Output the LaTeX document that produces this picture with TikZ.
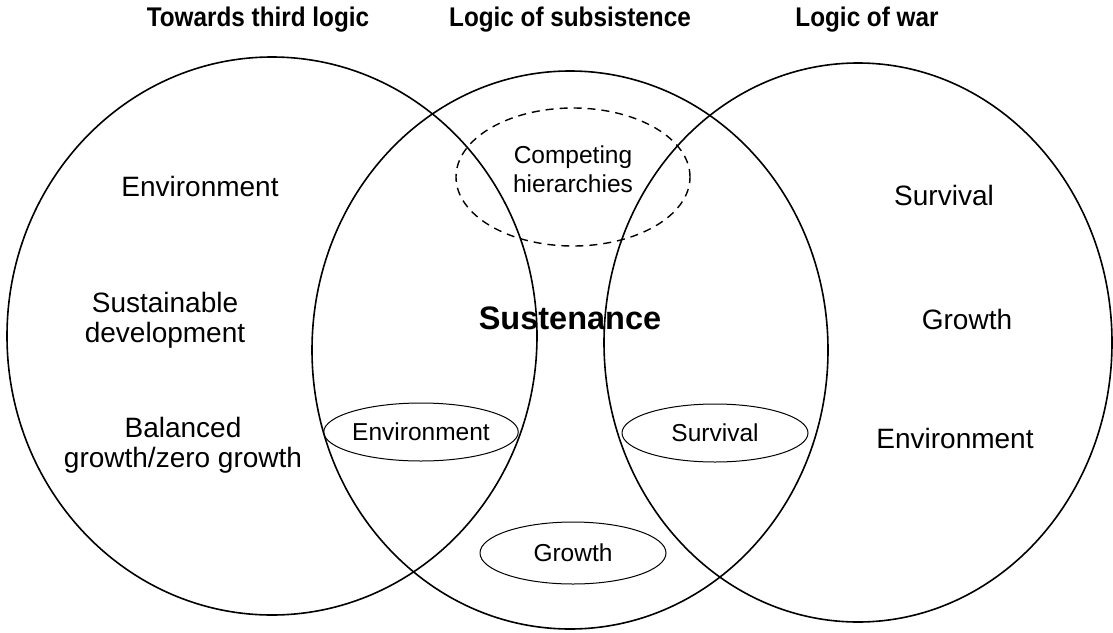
\documentclass[tikz,border=0pt]{standalone}
\usepackage{fontspec}
\setmainfont{Liberation Sans}
\newfontfamily\titlefont{Liberation Sans}[FakeStretch=0.9]
\usetikzlibrary{shapes.geometric}
\begin{document}
\begin{tikzpicture}[x=1pt,y=-1pt,
  bigell/.style={ellipse, draw, line width=1.6pt, inner sep=0pt},
  smallell/.style={ellipse, draw, line width=1pt, inner sep=0pt, minimum width=186pt, font=\fontsize{24.5}{29}\selectfont},
  dashell/.style={ellipse, draw, line width=1.4pt, dash pattern=on 8pt off 6pt, inner sep=0pt},
  title/.style={font=\titlefont\fontsize{27}{30}\selectfont\bfseries, inner sep=0pt},
  lbl/.style={font=\fontsize{28}{30}\selectfont, align=center, inner sep=0pt},
  slbl/.style={font=\fontsize{24.5}{29.5}\selectfont, align=center, inner sep=0pt},
  core/.style={font=\fontsize{32.5}{36}\selectfont\bfseries, inner sep=0pt}]
\useasboundingbox (0,0) rectangle (1113,632);
% titles
\node[title] (t1) at (258,20) {Towards third logic};
\node[title] (t2) at (570,20) {Logic of subsistence};
\node[title] (t3) at (867,20) {Logic of war};
% big ellipses
\node[bigell, minimum width=530pt, minimum height=558pt] (L) at (272,336) {};
\node[bigell, minimum width=516pt, minimum height=558pt] (M) at (570,350) {};
\node[bigell, minimum width=508pt, minimum height=559pt] (R) at (858,342.5) {};
% competing hierarchies
\node[dashell, minimum width=234pt, minimum height=138pt] (ch) at (573,177) {};
\node[slbl] (cht) at (573,169) {Competing\\hierarchies};
% core
\node[core] (sus) at (570,318) {Sustenance};
% small ellipses
\node[smallell, minimum height=58pt] (se) at (421,432) {Environment};
\node[smallell, minimum height=58pt] (ss) at (715,433) {Survival};
\node[smallell, minimum height=62pt] (sg) at (573,553) {Growth};
% left labels
\node[lbl] (l1) at (200,186) {Environment};
\node[lbl] (l2) at (165,320) {Sustainable\\development};
\node[lbl] (l3) at (183,445) {Balanced\\growth/zero growth};
% right labels
\node[lbl] (r1) at (944,195) {Survival};
\node[lbl] (r2) at (967,319) {Growth};
\node[lbl] (r3) at (955,438) {Environment};
\end{tikzpicture}
\end{document}
